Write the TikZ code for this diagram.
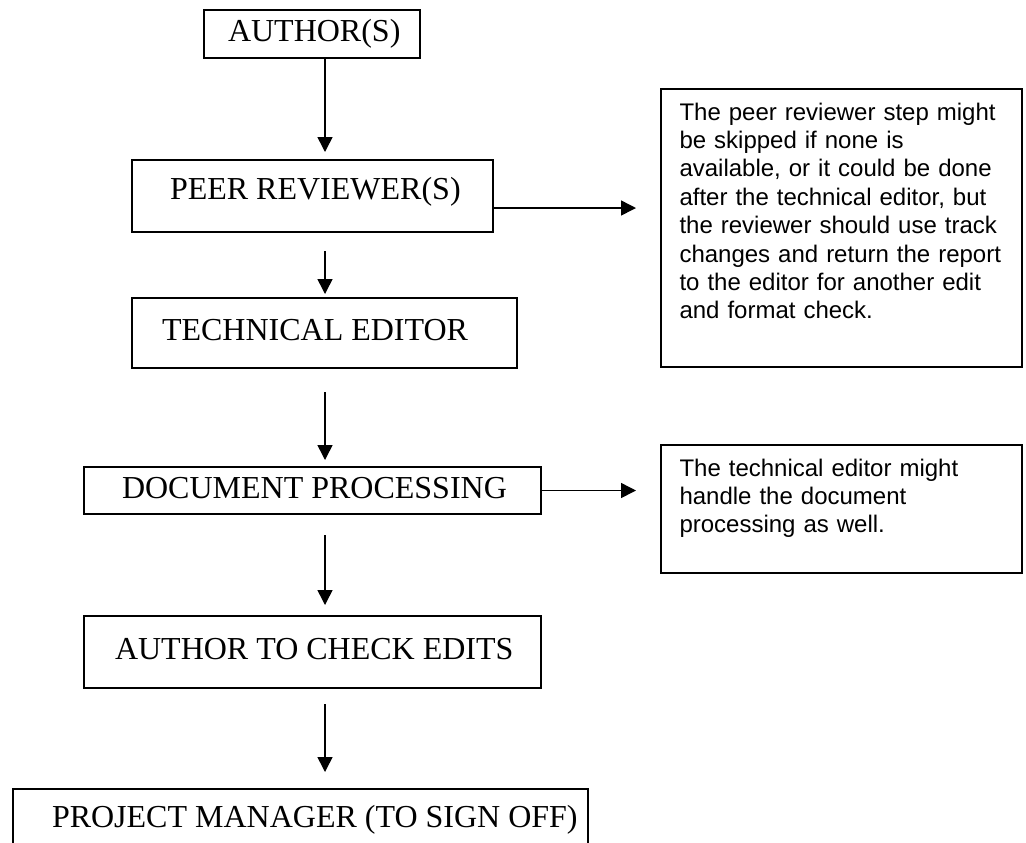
\documentclass[tikz,border=0pt]{standalone}
\usepackage{fontspec}
\setmainfont{Liberation Serif}
\newfontfamily\notefont{Liberation Sans}
\usetikzlibrary{arrows.meta}
\usetikzlibrary{positioning}

% text set flush left inside a box of fixed width
\newcommand{\lefttext}[2]{\makebox[#1][l]{#2}}

\tikzset{
	box/.style={draw, line width=1pt, inner ysep=2pt, text height=11pt, text depth=3.5pt,
		font=\fontsize{16}{19}\selectfont},
	note/.style={draw, line width=1pt, anchor=north west, align=left, text width=162pt,
		inner xsep=9.25pt, inner ysep=6.5pt, text height=9pt,
		font=\notefont\fontsize{12}{14.2}\selectfont},
	flow/.style={-{Triangle[length=7.5pt,width=7.5pt]}, line width=0.75pt}
}

\begin{document}
\hyphenpenalty=10000
\exhyphenpenalty=10000
\begin{tikzpicture}[x=0.5pt, y=-0.5pt] % review steps
	
	\clip (0,0) rectangle (1026,842);
	
	%steps
	\node[box, inner xsep=12pt, minimum height=24pt] (author) at (312,34) {\lefttext{84pt}{AUTHOR(S)}};
	\node[box, inner xsep=19pt, minimum height=36pt, text depth=7.5pt] (peer) at (312.5,196) {\lefttext{142.5pt}{PEER REVIEWER(S)}};
	\node[box, inner xsep=15pt, minimum height=35pt] (tech) at (324.5,333) {\lefttext{162.5pt}{TECHNICAL EDITOR}};
	\node[box, inner xsep=19pt, minimum height=23.5pt] (proc) at (312.5,490.5) {\lefttext{190.5pt}{DOCUMENT PROCESSING}};
	\node[box, inner xsep=15.5pt, minimum height=36pt] (check) at (312.5,652) {\lefttext{197.5pt}{AUTHOR TO CHECK EDITS}};
	\node[box, inner xsep=19.5pt, minimum height=31pt] (pm) at (300.5,820) {\lefttext{248.5pt}{PROJECT MANAGER (TO SIGN OFF)}};
	
	%notes
	\node[note, text depth=117pt] (peernote) at (660,88) {The peer reviewer step might\\
		be skipped if none is\\
		available, or it could be done\\
		after the technical editor, but\\
		the reviewer should use track\\
		changes and return the report\\
		to the editor for another edit\\
		and format check.};
	\node[note, text depth=42pt] (procnote) at (660,444) {The technical editor might\\
		handle the document\\
		processing as well.};
	
	%arrows
	\coordinate (spine) at (325,0);
	\draw[flow, shorten >=3.5pt] (author.south -| spine) -- (peer.north -| spine);
	\draw[flow, shorten <=9pt, shorten >=1.5pt] (peer.south -| spine) -- (tech.north -| spine);
	\draw[flow, shorten <=11.5pt, shorten >=3pt] (tech.south -| spine) -- (proc.north -| spine);
	\draw[flow, shorten <=10pt, shorten >=5pt] (proc.south -| spine) -- (check.north -| spine);
	\draw[flow, shorten <=7.5pt, shorten >=8pt] (check.south -| spine) -- (pm.north -| spine);
	
	\draw[flow, shorten >=12pt] ([yshift=-6pt]peer.east) -- ([yshift=-6pt]peer.east -| peernote.west);
	\draw[flow, shorten >=12pt] (proc.east) -- (proc.east -| procnote.west);
	
\end{tikzpicture}
\end{document}
